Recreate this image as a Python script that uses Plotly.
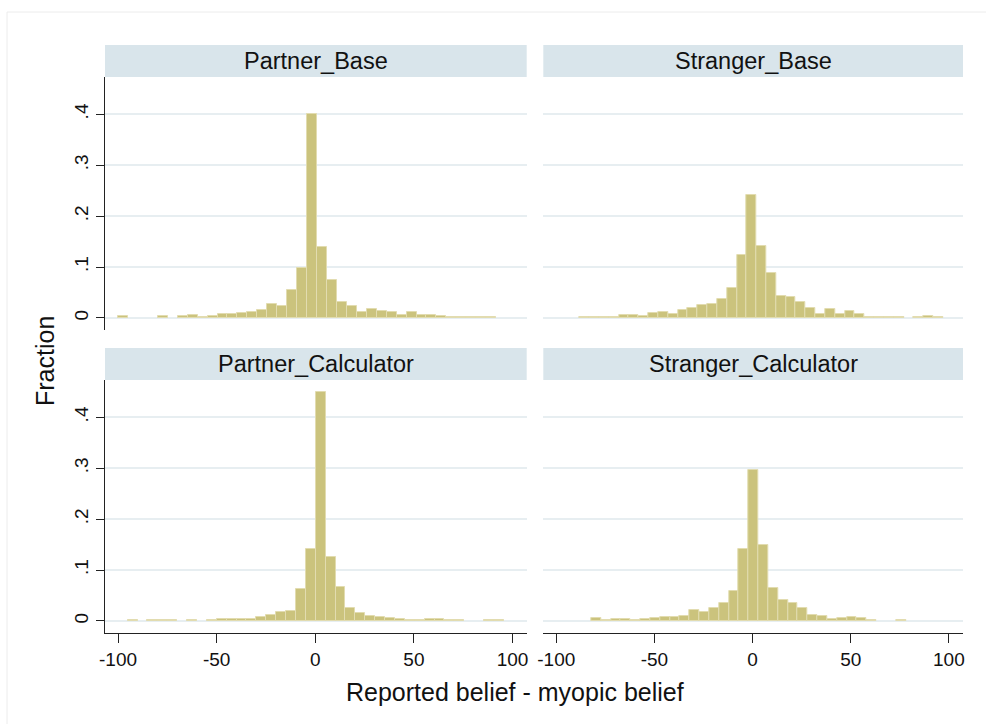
import plotly.graph_objects as go

# Histogram bins: first bin edge, bin width and fraction per bin for each group
partner_base_start = -100.0
partner_base_width = 5.045
partner_base_frac = [0.003, 0, 0, 0, 0.003, 0, 0.003, 0.005, 0.002, 0.003,
                     0.007, 0.007, 0.009, 0.012, 0.015, 0.028, 0.024, 0.055, 0.098, 0.400,
                     0.139, 0.075, 0.032, 0.024, 0.011, 0.017, 0.013, 0.011, 0.005, 0.012,
                     0.005, 0.005, 0.003, 0.002, 0.002, 0.002, 0.002, 0.002]

stranger_base_start = -88.1
stranger_base_width = 5.005
stranger_base_frac = [0.002, 0.002, 0.002, 0.002, 0.005, 0.005, 0.004, 0.009, 0.011, 0.008,
                      0.015, 0.020, 0.025, 0.027, 0.037, 0.058, 0.124, 0.241, 0.141, 0.088,
                      0.044, 0.041, 0.031, 0.020, 0.007, 0.017, 0.007, 0.014, 0.008, 0.002,
                      0.002, 0.002, 0.002, 0, 0.002, 0.004, 0.002]

partner_calc_start = -95.1
partner_calc_width = 5.018
partner_calc_frac = [0.002, 0, 0.002, 0.002, 0.002, 0, 0.002, 0, 0.002, 0.003,
                     0.003, 0.003, 0.004, 0.008, 0.012, 0.018, 0.020, 0.063, 0.142, 0.449,
                     0.125, 0.067, 0.026, 0.016, 0.010, 0.007, 0.005, 0.004, 0.002, 0.002,
                     0.003, 0.003, 0.002, 0.002, 0, 0, 0.002, 0.002]

stranger_calc_start = -82.2
stranger_calc_width = 5.01
stranger_calc_frac = [0.005, 0.002, 0.003, 0.003, 0.002, 0.003, 0.006, 0.007, 0.007, 0.009,
                      0.021, 0.018, 0.026, 0.035, 0.059, 0.141, 0.296, 0.149, 0.065, 0.041,
                      0.035, 0.026, 0.012, 0.009, 0.003, 0.006, 0.007, 0.005, 0.002, 0,
                      0, 0.002]

panel_titles = ["Partner_Base", "Stranger_Base", "Partner_Calculator", "Stranger_Calculator"]
x_ticks = [-100, -50, 0, 50, 100]
x_tick_text = ["-100", "-50", "0", "50", "100"]
y_ticks = [0, 0.1, 0.2, 0.3, 0.4]
y_tick_text = ["0", ".1", ".2", ".3", ".4"]

W, H = 986, 724
FONT = "Liberation Sans, Arial, sans-serif"
BAR_FILL = "#CBC37D"
BAR_EDGE = "#E2DCB0"
GRID = "#E7EEF1"
STRIP = "#D9E5EB"
AXIS = "#222222"

# pixel layout of the 2x2 grid
col_px = [(105, 526.7), (543.3, 963)]
row_px = [(77, 330), (380, 633)]
strip_px = [(45, 77), (348, 380)]


def px_x(v):
    return v / W


def px_y(v):
    return 1 - v / H


panels = [
    (partner_base_start, partner_base_width, partner_base_frac),
    (stranger_base_start, stranger_base_width, stranger_base_frac),
    (partner_calc_start, partner_calc_width, partner_calc_frac),
    (stranger_calc_start, stranger_calc_width, stranger_calc_frac),
]

fig = go.Figure()
shapes = []
annotations = []

for k, (start, width, frac) in enumerate(panels):
    r, c = divmod(k, 2)
    sfx = "" if k == 0 else str(k + 1)
    centers = [start + width * (i + 0.5) for i in range(len(frac))]
    heights = [f if f > 0 else None for f in frac]
    fig.add_trace(go.Bar(
        x=centers, y=heights, width=width,
        marker=dict(color=BAR_FILL, line=dict(color=BAR_EDGE, width=1)),
        xaxis="x" + sfx, yaxis="y" + sfx, showlegend=False,
        hovertemplate="%{x:.1f}: %{y:.3f}<extra></extra>",
    ))

    bottom = r == 1
    left = c == 0
    fig.layout["xaxis" + sfx] = dict(
        domain=[px_x(col_px[c][0]), px_x(col_px[c][1])],
        anchor="y" + sfx, range=[-106.6, 107.2], automargin=False,
        showgrid=False, zeroline=False,
        showline=bottom, linecolor=AXIS, linewidth=1,
        ticks="outside" if bottom else "", ticklen=9, tickwidth=1, tickcolor=AXIS,
        tickvals=x_ticks, ticktext=x_tick_text, showticklabels=bottom,
        tickfont=dict(family=FONT, size=19, color="#111111"),
    )
    fig.layout["yaxis" + sfx] = dict(
        domain=[px_y(row_px[r][1]), px_y(row_px[r][0])],
        anchor="x" + sfx, range=[-0.0237, 0.4733], automargin=False,
        showgrid=True, gridcolor=GRID, gridwidth=2, zeroline=False,
        showline=left, linecolor=AXIS, linewidth=1,
        ticks="outside" if left else "", ticklen=8, tickwidth=1, tickcolor=AXIS,
        tickvals=y_ticks, ticktext=y_tick_text, showticklabels=left,
        tickangle=-90, ticklabelstandoff=0,
        tickfont=dict(family=FONT, size=19, color="#111111"),
    )

    # panel header strip
    x0, x1 = col_px[c]
    s0, s1 = strip_px[r]
    shapes.append(dict(type="rect", xref="paper", yref="paper",
                       x0=px_x(x0), x1=px_x(x1), y0=px_y(s1), y1=px_y(s0),
                       fillcolor=STRIP, line=dict(width=0), layer="below"))
    annotations.append(dict(text=panel_titles[k], xref="paper", yref="paper",
                            x=px_x((x0 + x1) / 2), y=px_y((s0 + s1) / 2),
                            showarrow=False, xanchor="center", yanchor="middle",
                            font=dict(family=FONT, size=23.5, color="#111111")))

# outer graph region outline
shapes.append(dict(type="rect", xref="paper", yref="paper",
                   x0=px_x(7), x1=1.01, y0=-0.01, y1=px_y(12),
                   fillcolor="rgba(0,0,0,0)", line=dict(color="#ECECEC", width=1),
                   layer="below"))

annotations.append(dict(text="Fraction", xref="paper", yref="paper",
                        x=px_x(45), y=px_y(361), textangle=-90, showarrow=False,
                        xanchor="center", yanchor="middle",
                        font=dict(family=FONT, size=25, color="#111111")))
annotations.append(dict(text="Reported belief - myopic belief", xref="paper", yref="paper",
                        x=px_x(515), y=px_y(692), showarrow=False,
                        xanchor="center", yanchor="middle",
                        font=dict(family=FONT, size=25, color="#111111")))

fig.update_layout(
    width=W, height=H, margin=dict(l=0, r=0, t=0, b=0, autoexpand=False),
    paper_bgcolor="white", plot_bgcolor="white",
    bargap=0, shapes=shapes, annotations=annotations,
)

fig.write_html("out.html")
